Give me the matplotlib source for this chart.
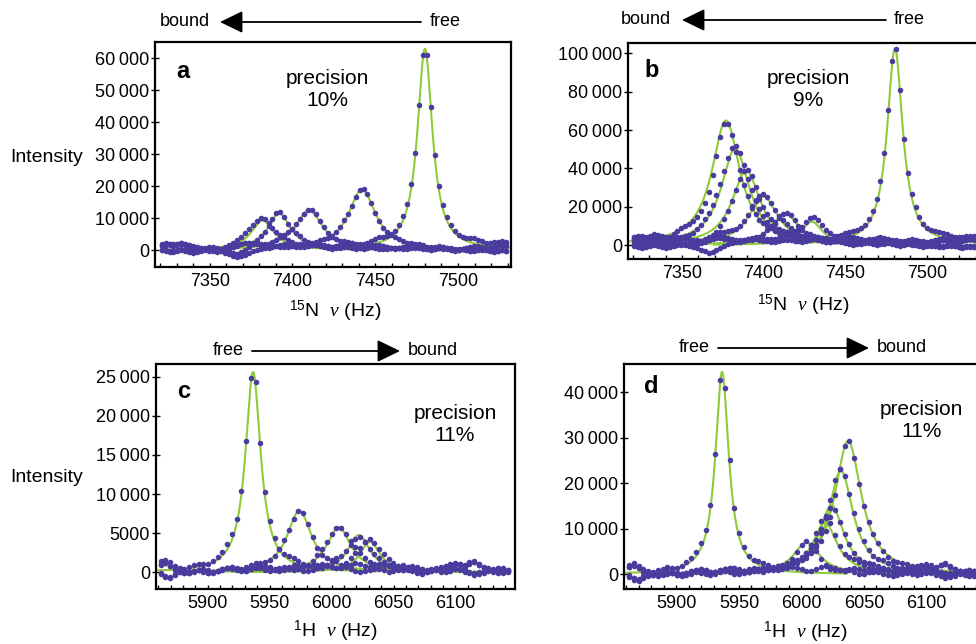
import numpy as np
import matplotlib
matplotlib.use('Agg')
import matplotlib.pyplot as plt
from matplotlib.patches import FancyArrowPatch
from matplotlib.ticker import MultipleLocator, FuncFormatter

plt.rcParams['font.family'] = ['Liberation Sans', 'DejaVu Sans']
plt.rcParams['mathtext.fontset'] = 'custom'
plt.rcParams['mathtext.rm'] = 'Liberation Sans'
plt.rcParams['mathtext.it'] = 'Liberation Serif:italic'

# sampling ranges of the spectra (Hz)
n15_range = (7321.0, 7529.0)
h1_range = (5862.0, 6142.0)

# baseline wiggle (units of 100 intensity), 15N spectra
wig_n_up = [14, 16, 15, 13, 15, 17, 14, 11, 8, 6,
            4, 2, 0, -1, -3, -2, 1, 4, 7, 10,
            13, 15, 16, 14, 12, 9, 7, 6, 7, 9,
            11, 12, 10, 8, 6, 5, 4, 6, 8, 9,
            8, 6, 5, 3, 4, 6, 8, 10, 9, 7,
            5, 4, 6, 9, 11, 12, 10, 8, 6, 5,
            7, 9, 11, 13, 12, 10, 8, 6, 4, 5,
            7, 9, 8, 6, 4, 3, 5, 8, 10, 12,
            11, 9, 7, 8, 10, 13, 15, 14]
wig_n_low = [-4, -6, -8, -7, -5, -3, -5, -8, -10, -8,
             -5, -2, 0, -1, -4, -7, -11, -15, -19, -22,
             -20, -16, -12, -8, -5, -3, -2, -1, 0, 1,
             0, -2, -3, -1, 1, 2, 0, -2, -1, 1,
             2, 1, -1, -2, 0, 2, 3, 1, -1, -3,
             -2, 0, 2, 1, -1, -2, -4, -3, -1, 1,
             0, -2, -3, -1, 0, 1, -1, -3, -4, -2,
             0, -1, -3, -5, -6, -4, -3, -5, -7, -6,
             -4, -3, -5, -7, -8, -6, -5, -7]
# same for 1H spectra
wig_h_up = [12, 14, 10, 5, 2, 0, 1, 3, 4, 2,
            0, 1, 3, 5, 7, 8, 6, 4, 3, 5,
            7, 9, 8, 6, 4, 2, 3, 5, 6, 4,
            2, 1, 3, 5, 7, 6, 4, 2, 3, 5,
            8, 10, 9, 7, 5, 4, 6, 8, 7, 5,
            3, 2, 4, 6, 5, 3, 1, 2, 4, 6,
            8, 10, 12, 11, 9, 13, 15, 11, 7, 5,
            4, 6, 5, 3]
wig_h_low = [-5, -9, -11, -7, -3, -2, -4, -3, -1, 0,
             -2, -4, -3, -1, 1, 0, -2, -3, -1, 1,
             2, 0, -2, -3, -2, 0, 1, -1, -3, -2,
             0, 1, -1, -3, -4, -2, 0, 1, -1, -2,
             -4, -6, -7, -5, -3, -1, 0, -2, -4, -3,
             -1, 1, 0, -2, -4, -5, -3, -1, 0, -2,
             -3, -1, 1, 0, -2, -4, -6, -5, -3, -1,
             -2, -4, -3, -2]

# fitted peaks: centre (Hz), height, half width (Hz); per-spectrum baseline offset and wiggle
a_centers = [7480.0, 7442.0, 7410.0, 7392.0, 7382.0]
a_heights = [63000, 19000, 12500, 11500, 9300]
a_widths = [5.5, 10.0, 10.0, 8.5, 8.5]
a_offsets = [0, 300, -600, 500, -300]
a_wiggle = [0, 1, 0, 1, 0]

b_centers = [7480.5, 7377.0, 7382.7, 7389.4, 7400.0, 7413.3, 7429.6]
b_heights = [102500, 65000, 50400, 38800, 25200, 16500, 12200]
b_widths = [5.8, 10.5, 10.5, 10.5, 11.0, 10.0, 8.0]
b_offsets = [0, 400, -300, 600, -500, 200, 800]
b_wiggle = [0, 1, 0, 1, 0, 1, 0]

c_centers = [5936.6, 5974.0, 6005.8, 6022.0, 6031.0]
c_heights = [25600, 7900, 5750, 4770, 3900]
c_widths = [7.5, 12.0, 12.0, 11.0, 10.0]
c_offsets = [0, 200, -200, 400, -100]
c_wiggle = [0, 1, 0, 1, 0]

d_centers = [5936.5, 6037.3, 6031.5, 6024.0, 6018.7, 6004.0]
d_heights = [44500, 29300, 22800, 15200, 11400, 7000]
d_widths = [6.5, 13.0, 12.0, 12.0, 12.0, 13.0]
d_offsets = [0, 300, -300, 500, -200, 100]
d_wiggle = [0, 1, 0, 1, 0, 1]

precisions = ['10%', '9%', '11%', '11%']

DOT = '#4a3c9e'
FIT = '#8fcb38'


def lorentz(x, c, h, w):
    return h / (1 + ((x - c) / w) ** 2)


def fmt_int(v, pos):
    n = int(round(v))
    if abs(n) >= 10000:
        return '{:,}'.format(n).replace(',', '\u2009')
    return str(n)


def fpos(x, y):
    # pixel position in the 976x644 picture -> figure fraction
    return (x / 976, 1 - y / 644)


panels = [
    dict(name='a', rect=[0.1588, 0.5854, 0.3648, 0.3494], xr=n15_range, xlim=(7317, 7532),
         ylim=(-5300, 65100), ystep=10000, wig=(wig_n_up, wig_n_low), scale=130, span=60,
         cen=a_centers, hgt=a_heights, wid=a_widths, off=a_offsets, wsel=a_wiggle,
         letter=(0.06, 0.867), prec=(0.485, 0.791)),
    dict(name='b', rect=[0.6434, 0.5978, 0.3597, 0.3354], xr=n15_range, xlim=(7317, 7532),
         ylim=(-7300, 105400), ystep=20000, wig=(wig_n_up, wig_n_low), scale=220, span=60,
         cen=b_centers, hgt=b_heights, wid=b_widths, off=b_offsets, wsel=b_wiggle,
         letter=(0.048, 0.875), prec=(0.514, 0.787)),
    dict(name='c', rect=[0.1595, 0.0854, 0.3681, 0.3489], xr=h1_range, xlim=(5858, 6148),
         ylim=(-2130, 26580), ystep=5000, wig=(wig_h_up, wig_h_low), scale=95, span=100,
         cen=c_centers, hgt=c_heights, wid=c_widths, off=c_offsets, wsel=c_wiggle,
         letter=(0.059, 0.878), prec=(0.833, 0.734)),
    dict(name='d', rect=[0.6393, 0.0854, 0.3714, 0.3489], xr=h1_range, xlim=(5858, 6148),
         ylim=(-3230, 46150), ystep=10000, wig=(wig_h_up, wig_h_low), scale=150, span=100,
         cen=d_centers, hgt=d_heights, wid=d_widths, off=d_offsets, wsel=d_wiggle,
         letter=(0.055, 0.9), prec=(0.821, 0.748)),
]

fig = plt.figure(figsize=(9.76, 6.44), dpi=100)

for p, prec in zip(panels, precisions):
    ax = fig.add_axes(p['rect'])
    n = len(p['wig'][0])
    x = np.linspace(p['xr'][0], p['xr'][1], n)
    # fitted curves
    for c, h, w in zip(p['cen'], p['hgt'], p['wid']):
        xf = np.linspace(max(c - p['span'], p['xlim'][0]), min(c + p['span'], p['xlim'][1]), 400)
        ax.plot(xf, lorentz(xf, c, h, w), color=FIT, lw=1.5, zorder=2)
    # measured points
    for c, h, w, o, k in zip(p['cen'], p['hgt'], p['wid'], p['off'], p['wsel']):
        y = lorentz(x, c, h, w) + o + np.array(p['wig'][k]) * p['scale']
        ax.plot(x, y, 'o', color=DOT, ms=4.0, mew=0, zorder=3)

    ax.set_xlim(p['xlim'])
    ax.set_ylim(p['ylim'])
    ax.xaxis.set_major_locator(MultipleLocator(50))
    ax.xaxis.set_minor_locator(MultipleLocator(10))
    ax.yaxis.set_major_locator(MultipleLocator(p['ystep']))
    ax.yaxis.set_major_formatter(FuncFormatter(fmt_int))
    ax.tick_params(axis='x', which='both', direction='in', length=3, width=1,
                   labelsize=13, pad=4)
    ax.tick_params(axis='y', which='major', direction='inout', length=6, width=1,
                   labelsize=13, pad=1)
    for s in ax.spines.values():
        s.set_linewidth(1.6)

    ax.text(p['letter'][0], p['letter'][1], p['name'], transform=ax.transAxes,
            fontsize=17, fontweight='bold', ha='left', va='center')
    ax.text(p['prec'][0], p['prec'][1], 'precision\n' + prec, transform=ax.transAxes,
            fontsize=15, ha='center', va='center', linespacing=1.2)

# axis labels
for xy in [(47, 157), (47, 477)]:
    fig.text(*fpos(*xy), 'Intensity', fontsize=14, ha='center', va='center')
for xy in [(335, 311), (803, 305)]:
    fig.text(*fpos(*xy), r'$^{\mathrm{15}}$N  $\nu$ (Hz)', fontsize=14, ha='center', va='center')
for xy in [(335, 631), (805, 632)]:
    fig.text(*fpos(*xy), r'$^{\mathrm{1}}$H  $\nu$ (Hz)', fontsize=14, ha='center', va='center')

# free / bound arrows
arrows = [
    ((185, 22), (445, 22), (421, 22), (220, 22)),
    ((646, 20), (909, 20), (886, 20), (682, 20)),
    ((433, 351), (228, 351), (252, 351), (400, 351)),
    ((902, 348), (694, 348), (718, 348), (869, 348)),
]
for bound_xy, free_xy, tail, tip in arrows:
    fig.text(*fpos(*bound_xy), 'bound', fontsize=13, ha='center', va='center')
    fig.text(*fpos(*free_xy), 'free', fontsize=13, ha='center', va='center')
    fig.add_artist(FancyArrowPatch(fpos(*tail), fpos(*tip), transform=fig.transFigure,
                                   arrowstyle='-|>,head_length=0.7,head_width=0.34',
                                   mutation_scale=20, lw=1.3, color='black',
                                   shrinkA=0, shrinkB=0))

fig.savefig('out.png', dpi=100)
